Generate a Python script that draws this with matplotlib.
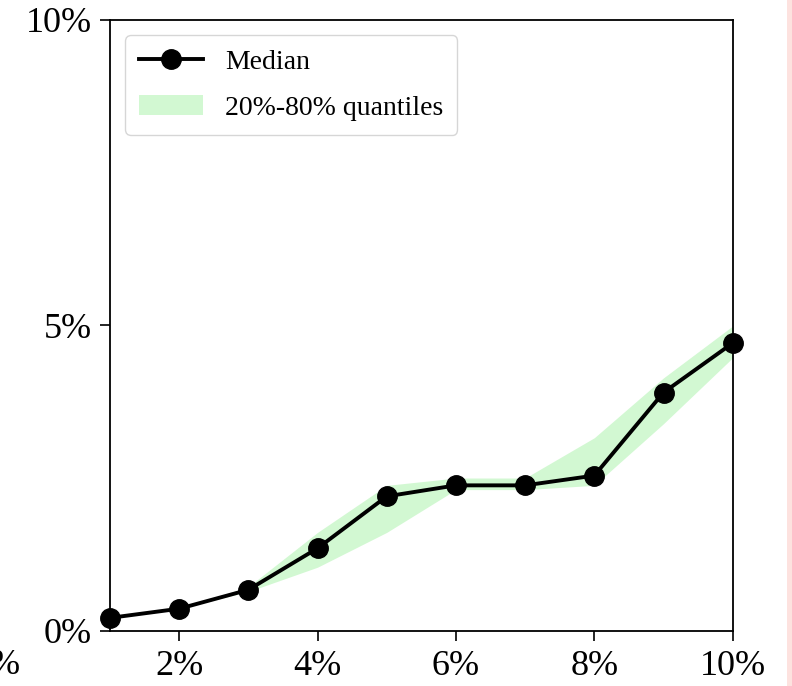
import matplotlib
matplotlib.use("Agg")
import matplotlib.pyplot as plt
from matplotlib.patches import Rectangle
from matplotlib.ticker import FuncFormatter

plt.rcParams['font.family'] = ['Liberation Serif', 'DejaVu Serif']

# data (percent)
x_vals = [1, 2, 3, 4, 5, 6, 7, 8, 9, 10]
median = [0.21, 0.36, 0.67, 1.35, 2.20, 2.38, 2.38, 2.54, 3.90, 4.71]
q20 = [0.21, 0.36, 0.64, 1.04, 1.61, 2.31, 2.31, 2.38, 3.39, 4.47]
q80 = [0.21, 0.36, 0.72, 1.61, 2.38, 2.50, 2.50, 3.16, 4.14, 4.99]
xticks = [2, 4, 6, 8, 10]
yticks = [0, 5, 10]

W, H = 792, 686
fig = plt.figure(figsize=(W / 100, H / 100), dpi=100)
ax = fig.add_axes([110 / W, 1 - 630.7 / H, (732.7 - 110) / W, (630.7 - 20) / H])

band = ax.fill_between(x_vals, q20, q80, color='lightgreen', alpha=0.4, linewidth=0,
                       label='20%-80% quantiles')
line, = ax.plot(x_vals, median, color='black', marker='o', markersize=14, linewidth=2.8,
                label='Median', clip_on=False, zorder=5)

ax.set_xlim(1, 10)
ax.set_ylim(0, 10)
ax.set_xticks(xticks)
ax.set_yticks(yticks)
fmt = FuncFormatter(lambda v, p: f"{v:g}%")
ax.xaxis.set_major_formatter(fmt)
ax.yaxis.set_major_formatter(fmt)
ax.tick_params(axis='both', labelsize=26, length=7, width=1.2)
ax.tick_params(axis='x', pad=7)
ax.tick_params(axis='y', pad=6)
for s in ax.spines.values():
    s.set_linewidth(1.3)

ax.legend(handles=[line, band], loc='upper left', fontsize=20, handlelength=2.3,
          labelspacing=0.75, borderpad=0.5, borderaxespad=0.55)

# fragment of neighbouring panel's tick label, cut at the left edge
fig.text(21 / W, 1 - 666 / H, "10%", fontsize=26, ha='right', va='center')
# neighbouring panel background strip on the right
fig.patches.append(Rectangle((787 / W, 0), 1 - 787 / W, 1, transform=fig.transFigure,
                             facecolor='#fde2df', edgecolor='none', zorder=-1))

fig.savefig("out.png", dpi=100)
